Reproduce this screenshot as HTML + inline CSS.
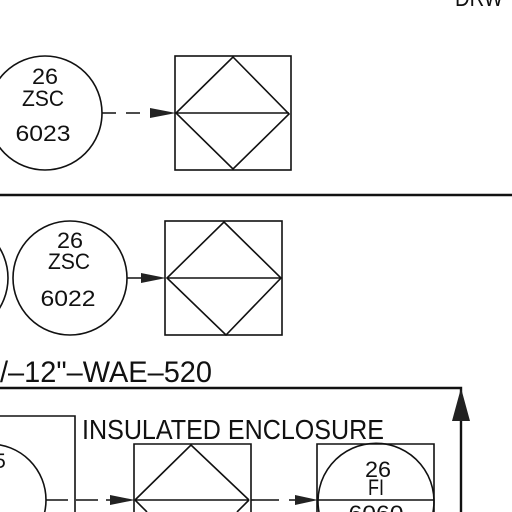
<!DOCTYPE html>
<html><head><meta charset="utf-8"><style>
html,body{margin:0;padding:0;background:#fff;width:512px;height:512px;overflow:hidden}
svg{display:block}
text{font-family:"Liberation Sans",sans-serif;fill:#111;text-anchor:middle}
</style></head><body>
<svg width="512" height="512" viewBox="0 0 512 512" stroke="#111" fill="none" stroke-width="1.6" overflow="hidden">
<text x="455" y="6" font-size="24" stroke="none" style="text-anchor:start" textLength="48" lengthAdjust="spacingAndGlyphs">DRW</text>
<g>
<circle cx="45" cy="113" r="57"/>
<text x="45" y="84" font-size="22" stroke="none" textLength="26" lengthAdjust="spacingAndGlyphs">26</text>
<text x="43" y="106" font-size="22" stroke="none" textLength="42" lengthAdjust="spacingAndGlyphs">ZSC</text>
<text x="43" y="141" font-size="22" stroke="none" textLength="55" lengthAdjust="spacingAndGlyphs">6023</text>
</g>
<line x1="102" y1="113" x2="155" y2="113" stroke-dasharray="14,10"/>
<polygon points="150,108 176,113 150,118" fill="#222" stroke="none"/>
<g>
<rect x="175" y="56" width="116" height="114"/>
<polygon points="233,57 289,114 233,169 176,113"/>
<line x1="176" y1="113" x2="289" y2="113"/>
</g>
<line x1="0" y1="195" x2="512" y2="195" stroke-width="2.4"/>
<circle cx="-50" cy="278" r="58"/>
<g>
<circle cx="70" cy="278" r="57"/>
<text x="70" y="248" font-size="22" stroke="none" textLength="26" lengthAdjust="spacingAndGlyphs">26</text>
<text x="69" y="269" font-size="22" stroke="none" textLength="42" lengthAdjust="spacingAndGlyphs">ZSC</text>
<text x="68" y="306" font-size="22" stroke="none" textLength="55" lengthAdjust="spacingAndGlyphs">6022</text>
</g>
<line x1="127" y1="278" x2="145" y2="278"/>
<polygon points="141,273 166,278 141,283" fill="#222" stroke="none"/>
<g>
<rect x="165" y="221" width="117" height="114"/>
<polygon points="224,222 281,278 226,335 167,278"/>
<line x1="167" y1="278" x2="281" y2="278"/>
</g>
<text x="0" y="382" font-size="30" stroke="none" style="text-anchor:start" textLength="212" lengthAdjust="spacingAndGlyphs">/–12"–WAE–520</text>
<polyline points="0,388 461,388 461,512" stroke-width="2.4"/>
<polygon points="461,388 452,421 470,421" fill="#222" stroke="none"/>
<polyline points="0,416 75,416 75,512"/>
<text x="82" y="439" font-size="28" stroke="none" style="text-anchor:start" textLength="302" lengthAdjust="spacingAndGlyphs">INSULATED ENCLOSURE</text>
<g>
<circle cx="-10" cy="500" r="56"/>
<text x="0" y="468" font-size="21" stroke="none">5</text>
</g>
<line x1="46" y1="500" x2="115" y2="500" stroke-dasharray="22,8"/>
<polygon points="110,495 135,500 110,505" fill="#222" stroke="none"/>
<g>
<polyline points="134,512 134,444 251,444 251,512"/>
<polyline points="135,500 191,445 249,500"/>
<line x1="135" y1="500" x2="147" y2="512"/>
<line x1="249" y1="500" x2="237" y2="512"/>
<line x1="135" y1="500" x2="249" y2="500"/>
</g>
<line x1="251" y1="500" x2="300" y2="500" stroke-dasharray="28,10"/>
<polygon points="295,495 318,500 295,505" fill="#222" stroke="none"/>
<g>
<polyline points="317,512 317,444 434,444 434,512"/>
<path d="M319,512 A58,58 0 1 1 433,512"/>
<line x1="317" y1="500" x2="434" y2="500"/>
<text x="378" y="477" font-size="22" stroke="none" textLength="26" lengthAdjust="spacingAndGlyphs">26</text>
<text x="376" y="495" font-size="22" stroke="none" textLength="16" lengthAdjust="spacingAndGlyphs">FI</text>
<text x="376" y="521" font-size="22" stroke="none" textLength="55" lengthAdjust="spacingAndGlyphs">6060</text>
</g>
</svg>
</body></html>
